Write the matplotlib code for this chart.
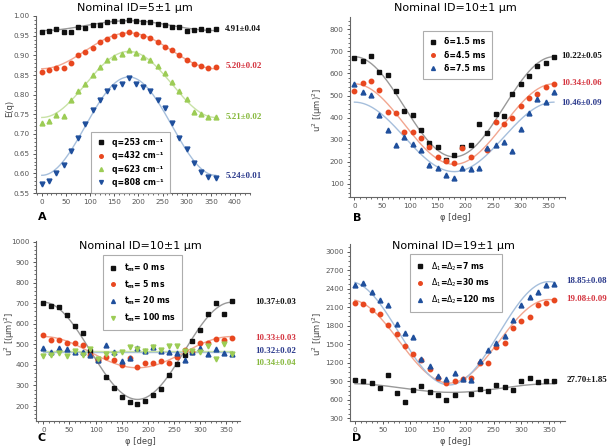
import matplotlib
matplotlib.use("Agg")
import matplotlib.pyplot as plt
import numpy as np

plt.rcParams["font.family"] = ["DejaVu Sans"]
plt.rcParams["font.size"] = 6

BLACK = "#111111"
RED = "#e8471f"
GREEN = "#9ccc55"
BLUE = "#1f4f9c"
FIT = {"k": "#999999", "r": "#f2a690", "g": "#c8e2a6", "b": "#a6bfdc"}
TXT = {"k": "#111111", "r": "#d4343f", "g": "#86b83c", "b": "#2b3a8c"}

phi = np.arange(0, 361, 15)
nan = np.nan

# panel A: E(q)
a_k = [0.960, 0.962, 0.966, 0.960, 0.960, 0.972, 0.970, 0.978, 0.978, 0.986, 0.987, 0.988, 0.990,
       0.988, 0.986, 0.986, 0.980, 0.977, 0.972, 0.972, 0.962, 0.964, 0.966, 0.965, 0.966]
a_r = [0.858, 0.862, 0.869, 0.869, 0.880, 0.901, 0.908, 0.918, 0.935, 0.941, 0.948, 0.954, 0.960,
       0.955, 0.948, 0.944, 0.935, 0.920, 0.913, 0.902, 0.887, 0.878, 0.872, 0.868, 0.870]
a_g = [0.728, 0.733, 0.748, 0.747, 0.786, 0.810, 0.828, 0.850, 0.871, 0.889, 0.897, 0.904, 0.913,
       0.905, 0.895, 0.888, 0.873, 0.855, 0.832, 0.810, 0.788, 0.755, 0.750, 0.742, 0.743]
a_b = [0.574, 0.580, 0.600, 0.620, 0.656, 0.690, 0.726, 0.760, 0.787, 0.810, 0.820, 0.826, 0.843,
       0.826, 0.820, 0.810, 0.787, 0.765, 0.728, 0.690, 0.662, 0.626, 0.604, 0.590, 0.589]
a_fit = [(0.963, 0.988, 180), (0.866, 0.957, 180), (0.742, 0.910, 180), (0.595, 0.845, 180)]
a_labels = ["q=253 cm⁻¹", "q=432 cm⁻¹", "q=623 cm⁻¹", "q=808 cm⁻¹"]
a_vals = ["4.91±0.04", "5.20±0.02", "5.21±0.02", "5.24±0.01"]
a_val_y = [0.966, 0.872, 0.744, 0.592]

# panel B: u^2
b_k = [670, 655, 680, 605, 592, 520, 432, 410, 343, 287, 265, 208, 232,
       267, 276, 371, 331, 415, 406, 505, 552, 587, 632, 648, 676]
b_r = [520, 558, 566, 524, 425, 423, 336, 334, 306, 265, 221, 203, 193,
       262, 221, nan, 255, 381, 373, 398, 451, 487, 507, 540, 551]
b_b = [553, 516, 503, 411, 343, 274, 312, 279, 252, 185, 170, 139, 126,
       170, 168, 170, 260, 275, 288, 250, 350, 422, 485, 472, 514]
b_fit = [(222, 676, 0), (188, 553, 0), (155, 470, 0)]
b_labels = ["δ=1.5 ms", "δ=4.5 ms", "δ=7.5 ms"]
b_vals = ["10.22±0.05", "10.34±0.06", "10.46±0.09"]
b_val_y = [679, 556, 468]

# panel C
c_k = [703, 685, 680, 645, 590, 555, 470, 422, 342, 288, 242, 218, 210,
       225, 253, 285, 350, 406, 447, 518, 570, 650, 703, 650, 712]
c_r = [547, 520, 522, 508, 505, 497, 448, 425, 440, 422, 400, 432, 390,
       410, 407, 420, 410, 437, 472, 465, 507, 505, 527, 520, 530]
c_b = [483, 465, 480, 475, 465, 462, 447, 424, 497, 463, 417, 435, 483,
       470, 487, 467, 462, 458, 425, 462, 480, 454, 478, 458, 455]
c_g = [443, 450, 456, 444, 466, 450, 478, 430, 455, 455, 463, 485, 478,
       467, 485, 474, 490, 492, 466, 467, 465, 490, 428, 503, 453]
c_fit = [(232, 705, 0), (386, 538, 0), (463, 463, 0), (466, 466, 0)]
c_labels = [r"$\mathbf{t_m}$= 0 ms", r"$\mathbf{t_m}$= 5 ms", r"$\mathbf{t_m}$= 20 ms", r"$\mathbf{t_m}$= 100 ms"]
c_vals = ["10.37±0.03", "10.33±0.03", "10.32±0.02", "10.34±0.04"]
c_val_y = [708, 532, 468, 411]

# panel D
d_k = [920, 910, 880, 790, 1000, 710, 570, 760, 830, 720, 670, 600, 680,
       nan, 700, 780, 750, 835, 815, 760, 910, 950, 890, 910, 910]
d_r = [2170, 2150, 2060, 1990, 1820, 1670, 1470, 1350, 1250, 1100, 960, 880, 900,
       930, 950, 1190, 1190, 1460, 1520, 1760, 1880, 1940, 2130, 2170, 2220]
d_b = [2460, 2500, 2350, 2210, 2130, 1830, 1680, 1610, 1260, 1150, 980, 930, 1030,
       930, 920, 1230, 1400, 1520, 1640, 1900, 2130, 2260, 2340, 2460, 2480]
d_fit = [(720, 860, -5), (870, 2225, -10), (840, 2515, -10)]
d_labels = [r"$\Delta_1$=$\Delta_2$=7 ms", r"$\Delta_1$=$\Delta_2$=30 ms", r"$\Delta_1$=$\Delta_2$=120 ms"]
d_vals = ["27.70±1.85", "19.08±0.09", "18.85±0.08"]
d_val_y = [926, 2238, 2520]


def fit_line(lo, hi, peak):
    t = np.linspace(0, 360, 200)
    return t, (lo + hi) / 2 + (hi - lo) / 2 * np.cos(np.radians(t - peak))


def panel(ax, series, fits, labels, vals, val_y, val_x, leg_xy):
    handles = []
    for (ys, col, mk, ms, key), (lo, hi, pk) in zip(series, fits):
        t, f = fit_line(lo, hi, pk)
        ax.plot(t, f, color=FIT[key], lw=1.0, zorder=1)
        h, = ax.plot(phi, ys, ls="none", marker=mk, color=col, ms=ms, mec=col, zorder=2)
        handles.append(h)
    for (ys, col, mk, ms, key), v, y in zip(series, vals, val_y):
        ax.text(val_x, y, v, color=TXT[key], fontsize=6.4, fontweight="bold",
                family="Liberation Serif", va="center", ha="left", clip_on=False)
    leg = ax.legend(handles, labels, loc="upper left", bbox_to_anchor=leg_xy, borderaxespad=0,
                    fancybox=False, edgecolor="#999999", prop={"weight": "bold", "size": 5.6},
                    handletextpad=0.9, borderpad=0.8, labelspacing=0.55, handlelength=1.0,
                    markerscale=0.8)
    leg.get_frame().set_linewidth(0.8)
    for s in ["top", "right"]:
        ax.spines[s].set_visible(False)
    for s in ["left", "bottom"]:
        ax.spines[s].set_color("#666666")
        ax.spines[s].set_linewidth(0.8)
    ax.tick_params(labelsize=5.2, colors="#555555", length=2.5, width=0.7, pad=2)
    ax.tick_params(which="minor", length=1.5, width=0.6, colors="#555555")
    ax.minorticks_on()


def ftext(x, y, s, **kw):
    fig.text(x / 614, 1 - y / 448, s, ha="center", va="center", **kw)


fig = plt.figure(figsize=(6.14, 4.48), dpi=100)
ylab = "u$^2$ [(µm)$^2$]"
lab_kw = dict(fontsize=6, color="#444444")

axA = fig.add_axes([36 / 614, 1 - 193 / 448, 214 / 614, 177 / 448])
sA = [(a_k, BLACK, "s", 3.0, "k"), (a_r, RED, "o", 3.2, "r"), (a_g, GREEN, "^", 3.5, "g"), (a_b, BLUE, "v", 3.5, "b")]
panel(axA, sA, a_fit, a_labels, a_vals, a_val_y, 380, (0.257, 0.345))
axA.set_xlim(-12, 431)
axA.set_ylim(0.55, 1.0)
axA.set_xticks(np.arange(0, 401, 50))
axA.set_yticks(np.arange(0.55, 1.001, 0.05))
axA.yaxis.set_major_formatter(matplotlib.ticker.FormatStrFormatter("%.2f"))
ftext(10, 108, "E(q)", rotation=90, **lab_kw)
ftext(135, 8, "Nominal ID=5±1 µm", fontsize=8)
ftext(42, 217, "A", fontsize=8, fontweight="bold")

axB = fig.add_axes([350 / 614, 1 - 197 / 448, 215 / 614, 180 / 448])
sB = [(b_k, BLACK, "s", 3.0, "k"), (b_r, RED, "o", 3.2, "r"), (b_b, BLUE, "^", 3.5, "b")]
panel(axB, sB, b_fit, b_labels, b_vals, b_val_y, 373, (0.34, 0.922))
axB.set_xlim(-8, 380)
axB.set_ylim(40, 856)
axB.set_xticks(np.arange(0, 351, 50))
axB.set_yticks(np.arange(100, 801, 100))
ftext(318, 110, ylab, rotation=90, **lab_kw)
ftext(455, 218, "φ [deg]", **lab_kw)
ftext(455, 8, "Nominal ID=10±1 µm", fontsize=8)
ftext(357, 218, "B", fontsize=8, fontweight="bold")

axC = fig.add_axes([36 / 614, 1 - 421 / 448, 204 / 614, 180 / 448])
sC = [(c_k, BLACK, "s", 3.0, "k"), (c_r, RED, "o", 3.2, "r"), (c_b, BLUE, "^", 3.5, "b"), (c_g, GREEN, "v", 3.5, "g")]
panel(axC, sC, c_fit, c_labels, c_vals, c_val_y, 406, (0.328, 0.922))
axC.set_xlim(-14, 376)
axC.set_ylim(127, 1003)
axC.set_xticks(np.arange(0, 351, 50))
axC.set_yticks(np.arange(200, 1001, 100))
ftext(10, 334, ylab, rotation=90, **lab_kw)
ftext(140, 441, "φ [deg]", **lab_kw)
ftext(140, 246, "Nominal ID=10±1 µm", fontsize=8)
ftext(42, 438, "C", fontsize=8, fontweight="bold")

axD = fig.add_axes([350 / 614, 1 - 421 / 448, 215 / 614, 177 / 448])
sD = [(d_k, BLACK, "s", 3.0, "k"), (d_r, RED, "o", 3.2, "r"), (d_b, BLUE, "^", 3.5, "b")]
panel(axD, sD, d_fit, d_labels, d_vals, d_val_y, 382, (0.279, 0.944))
axD.set_xlim(-9, 379)
axD.set_ylim(256, 3125)
axD.set_xticks(np.arange(0, 351, 50))
axD.set_yticks(np.arange(300, 3001, 300))
ftext(318, 334, ylab, rotation=90, **lab_kw)
ftext(455, 441, "φ [deg]", **lab_kw)
ftext(453, 246, "Nominal ID=19±1 µm", fontsize=8)
ftext(357, 438, "D", fontsize=8, fontweight="bold")

fig.savefig("out.png", dpi=100)
